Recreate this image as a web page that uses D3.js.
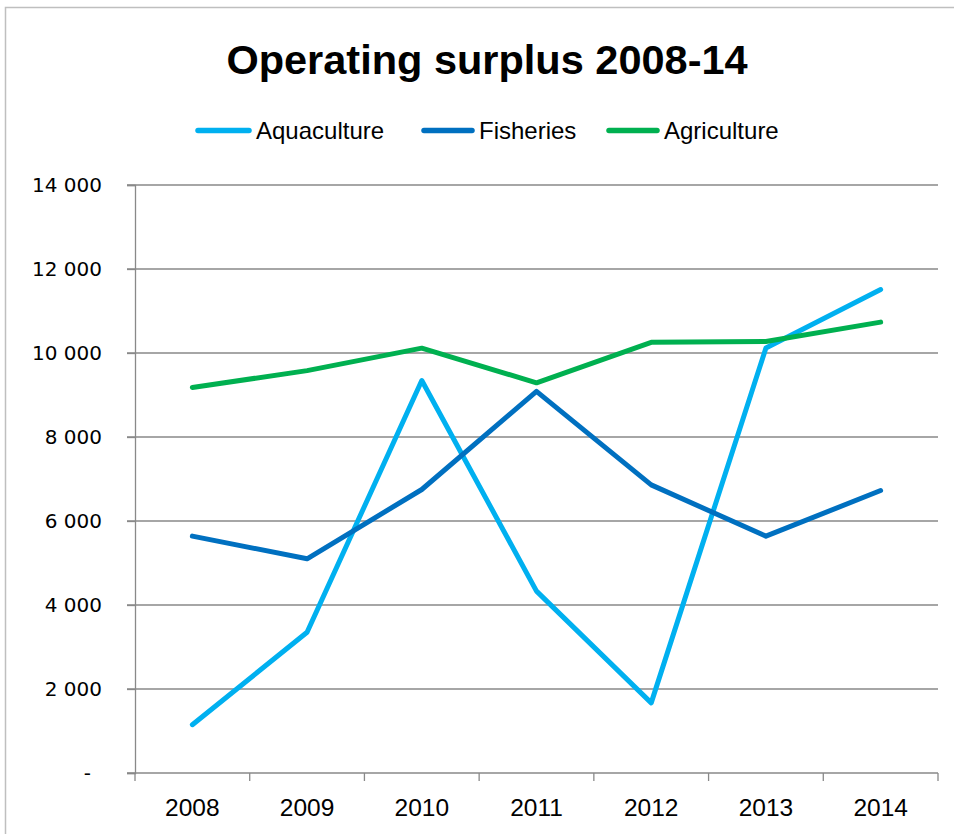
<!DOCTYPE html>
<html>
<head>
<meta charset="utf-8">
<script src="https://cdn.jsdelivr.net/npm/d3@7"></script>
<style>
  html, body { margin: 0; padding: 0; background: #fff; }
  svg { display: block; }
</style>
</head>
<body>
<svg id="chart" width="954" height="834"></svg>
<script>
// Operating surplus by sector, 2008-2014
const years = ["2008", "2009", "2010", "2011", "2012", "2013", "2014"];
const aquaculture = [1150, 3350, 9345, 4330, 1670, 10120, 11510];
const fisheries = [5640, 5100, 6750, 9085, 6860, 5640, 6725];
const agriculture = [9180, 9580, 10115, 9290, 10255, 10275, 10735];
const seriesNames = ["Aquaculture", "Fisheries", "Agriculture"];
const seriesColors = ["#00B0F0", "#0070C0", "#00B050"];
const yTicks = [0, 2000, 4000, 6000, 8000, 10000, 12000, 14000];

const series = [aquaculture, fisheries, agriculture].map((vals, i) => ({
  name: seriesNames[i],
  color: seriesColors[i],
  values: vals.map((v, j) => ({ year: years[j], value: v }))
}));

const svg = d3.select("#chart");
const plotLeft = 135, plotRight = 938, plotTop = 185, plotBottom = 773;
const gridColor = "#898989";
const textFont = "'Liberation Sans', Arial, sans-serif";

// chart area border
svg.append("rect")
  .attr("x", 5.5).attr("y", 7.5)
  .attr("width", 960).attr("height", 840)
  .attr("fill", "#fff")
  .attr("stroke", "#bfbfbf").attr("stroke-width", 1.5);

const x = d3.scalePoint().domain(years).range([plotLeft, plotRight]).padding(0.5);
const xBand = d3.scaleBand().domain(years).range([plotLeft, plotRight]);
const y = d3.scaleLinear().domain([0, 14000]).range([plotBottom, plotTop]);

// title
svg.append("text")
  .attr("x", 487).attr("y", 74)
  .attr("text-anchor", "middle")
  .attr("font-family", textFont)
  .attr("font-weight", "bold")
  .attr("font-size", 41.5)
  .attr("fill", "#000")
  .text("Operating surplus 2008-14");

// legend
const legendItems = [
  { x: 196, tx: 256 },
  { x: 422, tx: 479 },
  { x: 607, tx: 664 }
];
const legend = svg.append("g");
series.forEach((s, i) => {
  const it = legendItems[i];
  legend.append("line")
    .attr("x1", it.x + 2).attr("x2", it.tx - 7)
    .attr("y1", 130.5).attr("y2", 130.5)
    .attr("stroke", s.color).attr("stroke-width", 5.5)
    .attr("stroke-linecap", "round");
  legend.append("text")
    .attr("x", it.tx).attr("y", 138.5)
    .attr("font-family", textFont)
    .attr("font-size", 24)
    .attr("fill", "#000")
    .text(s.name);
});

// horizontal gridlines
svg.append("g")
  .selectAll("line")
  .data(yTicks.filter(d => d > 0))
  .join("line")
  .attr("x1", plotLeft - 8).attr("x2", plotRight)
  .attr("y1", d => y(d)).attr("y2", d => y(d))
  .attr("stroke", gridColor).attr("stroke-width", 1.3);

// y axis (zero shown as a dash, accounting style)
const yAxis = svg.append("g")
  .attr("transform", `translate(${plotLeft},0)`)
  .call(d3.axisLeft(y)
    .tickValues(yTicks)
    .tickSize(8)
    .tickPadding(25)
    .tickFormat(d => d === 0 ? "-" : d3.format(",")(d).replace(/,/g, " ")));
yAxis.select(".domain").attr("stroke", gridColor).attr("stroke-width", 1.3);
yAxis.selectAll(".tick line").attr("stroke", gridColor).attr("stroke-width", 1.3);
yAxis.selectAll(".tick text")
  .attr("font-family", "'DejaVu Sans', Verdana, sans-serif")
  .attr("font-size", 20)
  .attr("fill", "#000")
  .attr("dx", d => d === 0 ? -11 : 0);

// x axis: ticks sit between categories
const xAxisG = svg.append("g").attr("transform", `translate(0,${plotBottom})`);
xAxisG.append("line")
  .attr("x1", plotLeft - 8).attr("x2", plotRight)
  .attr("stroke", gridColor).attr("stroke-width", 1.3);
xAxisG.selectAll("line.tk")
  .data(years.map(yr => xBand(yr)).concat([plotRight]))
  .join("line")
  .attr("class", "tk")
  .attr("x1", d => d).attr("x2", d => d)
  .attr("y1", 0).attr("y2", 8)
  .attr("stroke", gridColor).attr("stroke-width", 1.3);
xAxisG.selectAll("text")
  .data(years)
  .join("text")
  .attr("x", d => x(d)).attr("y", 43)
  .attr("text-anchor", "middle")
  .attr("font-family", textFont)
  .attr("font-size", 24.5)
  .attr("fill", "#000")
  .text(d => d);

// series lines
const line = d3.line().x(d => x(d.year)).y(d => y(d.value));
svg.append("g")
  .selectAll("path")
  .data(series)
  .join("path")
  .attr("d", d => line(d.values))
  .attr("fill", "none")
  .attr("stroke", d => d.color)
  .attr("stroke-width", 5)
  .attr("stroke-linejoin", "round")
  .attr("stroke-linecap", "round");
</script>
</body>
</html>
